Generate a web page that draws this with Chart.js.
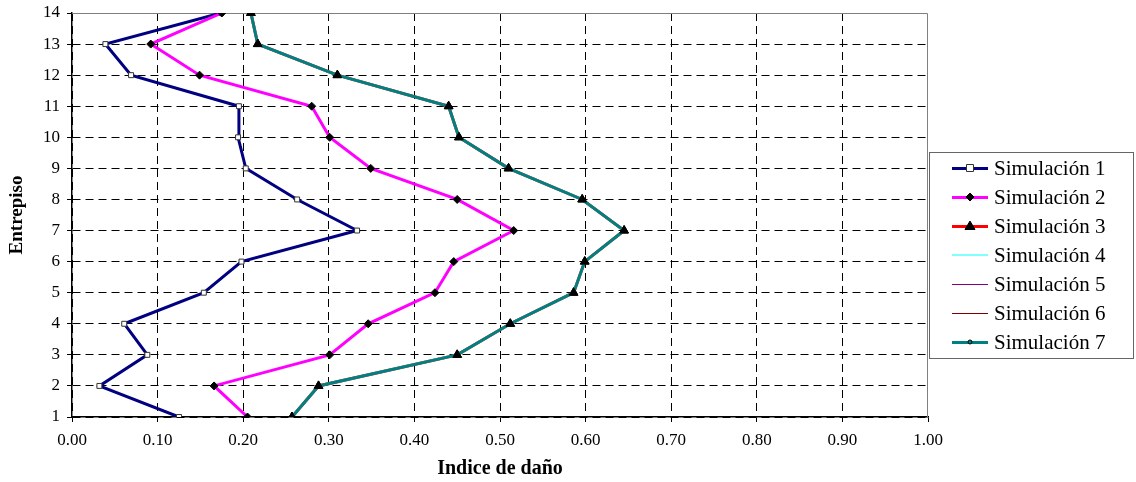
<!DOCTYPE html>
<html>
<head>
<meta charset="utf-8">
<script src="https://cdn.jsdelivr.net/npm/chart.js"></script>
<style>
    body { margin: 0; background: #fff; }
    #caja { width: 1136px; height: 482px; position: relative; }
</style>
</head>
<body>
<div id="caja"><canvas id="grafico"></canvas></div>
<script>
const entrepisos = [1, 2, 3, 4, 5, 6, 7, 8, 9, 10, 11, 12, 13, 14]

const simulacion1 = [0.125, 0.032, 0.088, 0.061, 0.154, 0.198, 0.333, 0.263, 0.203, 0.194, 0.195, 0.069, 0.039, 0.174]
const simulacion2 = [0.205, 0.166, 0.301, 0.346, 0.424, 0.446, 0.516, 0.450, 0.349, 0.301, 0.280, 0.149, 0.092, 0.175]
const simulacion3 = [0.257, 0.288, 0.450, 0.512, 0.586, 0.599, 0.645, 0.596, 0.510, 0.452, 0.440, 0.310, 0.217, 0.209]
const simulacion4 = [0.257, 0.288, 0.450, 0.512, 0.586, 0.599, 0.645, 0.596, 0.510, 0.452, 0.440, 0.310, 0.217, 0.209]
const simulacion5 = [0.257, 0.288, 0.450, 0.512, 0.586, 0.599, 0.645, 0.596, 0.510, 0.452, 0.440, 0.310, 0.217, 0.209]
const simulacion6 = [0.257, 0.288, 0.450, 0.512, 0.586, 0.599, 0.645, 0.596, 0.510, 0.452, 0.440, 0.310, 0.217, 0.209]
const simulacion7 = [0.257, 0.288, 0.450, 0.512, 0.586, 0.599, 0.645, 0.596, 0.510, 0.452, 0.440, 0.310, 0.217, 0.209]

const etiquetas = ['Simulación 1', 'Simulación 2', 'Simulación 3', 'Simulación 4', 'Simulación 5', 'Simulación 6', 'Simulación 7']

function puntos(valores) {
    return valores.map((v, i) => ({ x: v, y: entrepisos[i] }))
}

const fuente = "'Liberation Serif', 'Times New Roman', serif"

const series = [
    { data: simulacion1, color: '#000080', ancho: 3, marca: 'rect', radio: 3.5, relleno: '#ffffff', borde: '#333333' },
    { data: simulacion2, color: '#ff00ff', ancho: 3, marca: 'rectRot', radio: 4, relleno: '#000000', borde: '#000000' },
    { data: simulacion3, color: '#ff0000', ancho: 3, marca: 'triangle', radio: 5, relleno: '#000000', borde: '#000000' },
    { data: simulacion4, color: '#80ffff', ancho: 2, marca: false, radio: 0 },
    { data: simulacion5, color: '#800080', ancho: 1, marca: false, radio: 0 },
    { data: simulacion6, color: '#800000', ancho: 1, marca: false, radio: 0 },
    { data: simulacion7, color: '#008080', ancho: 3, marca: 'circle', radio: 2, relleno: '#008080', borde: '#000000' }
]

const datasets = series.map((s, i) => ({
    label: etiquetas[i],
    data: puntos(s.data),
    borderColor: s.color,
    backgroundColor: s.relleno || s.color,
    borderWidth: s.ancho,
    pointStyle: s.marca,
    pointRadius: s.radio,
    pointBackgroundColor: s.relleno,
    pointBorderColor: s.borde,
    pointBorderWidth: 1,
    tension: 0,
    order: 10 - i
}))

// marcas de la simulación 3 por encima de la línea de la 7
datasets.push({
    label: '',
    data: puntos(simulacion3),
    showLine: false,
    pointStyle: 'triangle',
    pointRadius: 5,
    pointBackgroundColor: '#000000',
    pointBorderColor: '#000000',
    pointBorderWidth: 1,
    order: 0
})

const bordePlot = {
    id: 'bordePlot',
    beforeDatasetsDraw(chart) {
        const { ctx, chartArea: a } = chart
        ctx.save()
        ctx.strokeStyle = '#808080'
        ctx.lineWidth = 1
        ctx.beginPath()
        ctx.moveTo(a.left, a.top + 0.5)
        ctx.lineTo(a.right - 0.5, a.top + 0.5)
        ctx.lineTo(a.right - 0.5, a.bottom)
        ctx.stroke()
        ctx.restore()
    }
}

function dibujarMarca(ctx, s, x, y) {
    if (!s.marca) return
    const r = s.radio
    ctx.fillStyle = s.relleno
    ctx.strokeStyle = s.borde
    ctx.lineWidth = 1
    ctx.beginPath()
    if (s.marca === 'rect') {
        ctx.rect(x - r, y - r, r * 2, r * 2)
    } else if (s.marca === 'rectRot') {
        ctx.moveTo(x, y - r); ctx.lineTo(x + r, y); ctx.lineTo(x, y + r); ctx.lineTo(x - r, y); ctx.closePath()
    } else if (s.marca === 'triangle') {
        ctx.moveTo(x, y - r); ctx.lineTo(x + r, y + r * 0.7); ctx.lineTo(x - r, y + r * 0.7); ctx.closePath()
    } else {
        ctx.arc(x, y, r, 0, Math.PI * 2)
    }
    ctx.fill()
    ctx.stroke()
}

const leyenda = {
    id: 'leyenda',
    afterDraw(chart) {
        const { ctx } = chart
        ctx.save()
        ctx.fillStyle = '#ffffff'
        ctx.fillRect(929, 152, 204, 206)
        ctx.strokeStyle = '#666666'
        ctx.lineWidth = 1
        ctx.strokeRect(929.5, 152.5, 204, 206)
        series.forEach((s, i) => {
            const y = 168 + i * 29
            const yl = s.ancho % 2 ? y + 0.5 : y
            ctx.strokeStyle = s.color
            ctx.lineWidth = s.ancho
            ctx.beginPath()
            ctx.moveTo(952, yl)
            ctx.lineTo(988, yl)
            ctx.stroke()
            dibujarMarca(ctx, s, 970, y)
            ctx.fillStyle = '#000000'
            ctx.font = '21px ' + fuente
            ctx.textBaseline = 'middle'
            ctx.textAlign = 'left'
            ctx.fillText(etiquetas[i], 994, y + 1)
        })
        ctx.restore()
    }
}

// la línea del borde superior y derecho la pinta bordePlot
const colorRejilla = (ultimo) => (c) => (c.tick && c.tick.value === ultimo ? 'rgba(0,0,0,0)' : '#000')

function sinRelleno(scale) {
    scale.paddingTop = 0
    scale.paddingBottom = 0
    scale.paddingLeft = 0
    scale.paddingRight = 0
}

new Chart(document.getElementById('grafico'), {
    type: 'line',
    data: { datasets: datasets },
    options: {
        responsive: true,
        maintainAspectRatio: false,
        animation: false,
        layout: { padding: { top: 13, right: 208, left: 0, bottom: 0 } },
        plugins: {
            legend: { display: false },
            tooltip: { enabled: false }
        },
        scales: {
            x: {
                type: 'linear',
                min: 0,
                max: 1,
                afterFit(scale) { scale.height = 65; sinRelleno(scale) },
                ticks: {
                    stepSize: 0.1,
                    color: '#000',
                    font: { family: fuente, size: 17 },
                    padding: 8,
                    maxRotation: 0,
                    callback: v => Number(v).toFixed(2)
                },
                grid: { color: colorRejilla(1), tickColor: '#000', lineWidth: 1, tickLength: 5 },
                border: { color: '#000', width: 1.5, dash: [8, 5] },
                title: {
                    display: true,
                    text: 'Indice de daño',
                    color: '#000',
                    font: { family: fuente, size: 20, weight: 'bold' },
                    padding: { top: 0, bottom: 1 }
                }
            },
            y: {
                type: 'linear',
                min: 1,
                max: 14,
                afterFit(scale) { scale.width = 72; sinRelleno(scale) },
                ticks: {
                    stepSize: 1,
                    color: '#000',
                    font: { family: fuente, size: 17 },
                    padding: 7
                },
                grid: { color: colorRejilla(14), tickColor: '#000', lineWidth: 1, tickLength: 5 },
                border: { color: '#000', width: 1.5, dash: [8, 5] },
                title: {
                    display: true,
                    text: 'Entrepiso',
                    color: '#000',
                    font: { family: fuente, size: 19, weight: 'bold' },
                    padding: { top: 6, bottom: 0 }
                }
            }
        }
    },
    plugins: [bordePlot, leyenda]
})
</script>
</body>
</html>
